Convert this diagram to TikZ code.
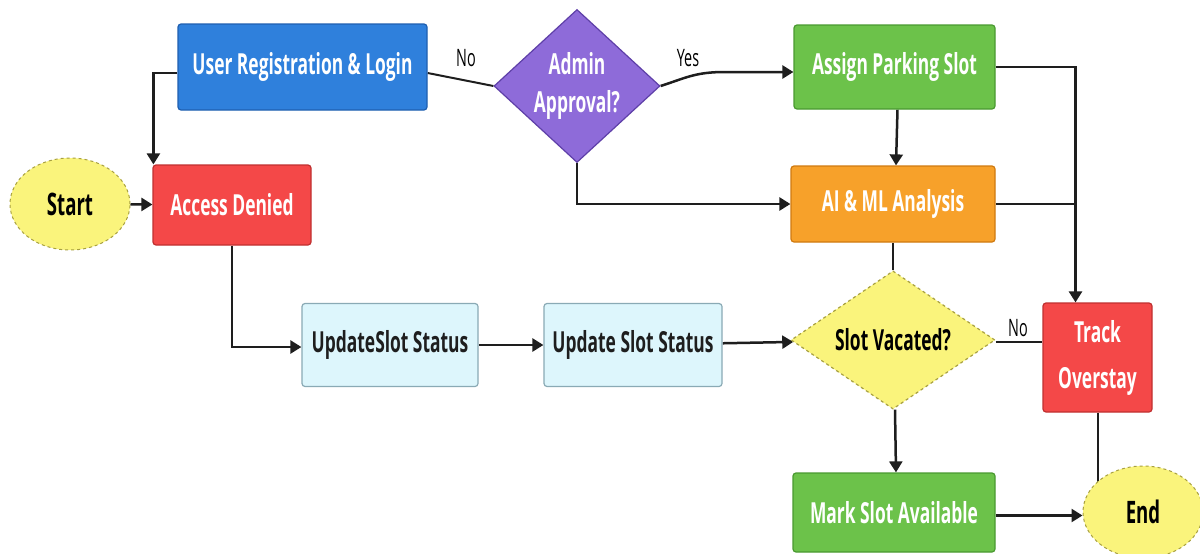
\documentclass[tikz,border=0pt]{standalone}
\usepackage{fontspec}
\setmainfont{Open Sans}[FakeStretch=0.6]
\usetikzlibrary{shapes.geometric,arrows.meta,backgrounds}
\definecolor{cblue}{HTML}{2F80DC}
\definecolor{cblueD}{HTML}{1F5FB0}
\definecolor{cred}{HTML}{F44848}
\definecolor{credD}{HTML}{C03030}
\definecolor{cyel}{HTML}{FAF47C}
\definecolor{cyelD}{HTML}{A8A040}
\definecolor{cpur}{HTML}{8E6BD9}
\definecolor{cpurD}{HTML}{5E3FA8}
\definecolor{cgreen}{HTML}{6CC24A}
\definecolor{cgreenD}{HTML}{4A9A30}
\definecolor{corange}{HTML}{F7A12A}
\definecolor{corangeD}{HTML}{D07A10}
\definecolor{ccyan}{HTML}{DDF6FC}
\definecolor{ccyanD}{HTML}{8AAAB5}
\definecolor{cline}{HTML}{1E1E1E}
\tikzset{
  box/.style={rectangle, rounded corners=3pt, line width=1.2pt, inner sep=2pt, align=center,
    font=\bfseries\fontsize{29}{46}\selectfont},
  terminal/.style={ellipse, fill=cyel, draw=cyelD, dashed, line width=1pt, inner sep=0pt,
    minimum width=120pt, minimum height=92pt, font=\bfseries\fontsize{31}{38}\selectfont, text=black},
  decision/.style={diamond, inner sep=0pt, align=center, line width=1.2pt,
    font=\bfseries\fontsize{29}{38}\selectfont},
  conn/.style={draw=cline, line width=2.5pt},
  thin conn/.style={draw=cline, line width=2pt},
  arr/.style={conn, -{Triangle[length=11pt,width=13pt]}},
  lbl/.style={font=\fontsize{24}{28}\selectfont, text=black, inner sep=1pt},
}
\begin{document}
\begin{tikzpicture}[x=1pt,y=-1pt]
\useasboundingbox (0,0) rectangle (1200,554);
% nodes
\node[terminal] (start) at (70,204) {Start};
\node[box, fill=cblue, draw=cblueD, text=white, minimum width=249pt, minimum height=86pt] (userreg) at (302.5,67) {User Registration \& Login};
\node[box, fill=cred, draw=credD, text=white, minimum width=158pt, minimum height=80pt] (access) at (232,205) {Access Denied};
\node[decision, fill=cpur, draw=cpurD, text=white, minimum width=166pt, minimum height=142pt] (admin) at (577,86) {Admin\\Approval?};
\node[box, fill=cgreen, draw=cgreenD, text=white, minimum width=201pt, minimum height=84pt] (assign) at (894.5,67) {Assign Parking Slot};
\node[box, fill=corange, draw=corangeD, text=white, minimum width=204pt, minimum height=76pt] (ai) at (893,204) {AI \& ML Analysis};
\node[box, fill=ccyan, draw=ccyanD, text=cline, minimum width=176pt, minimum height=83pt] (upd1) at (390,345) {UpdateSlot Status};
\node[box, fill=ccyan, draw=ccyanD, text=cline, minimum width=178pt, minimum height=83pt] (upd2) at (633,345) {Update Slot Status};
\node[decision, fill=cyel, draw=cyelD, dashed, text=black, minimum width=204pt, minimum height=136pt] (vac) at (893,340) {Slot Vacated?};
\node[box, fill=cred, draw=credD, text=white, minimum width=109pt, minimum height=109pt] (track) at (1097.5,357.5) {Track\\Overstay};
\node[box, fill=cgreen, draw=cgreenD, text=white, minimum width=202pt, minimum height=79pt] (mark) at (894,512.5) {Mark Slot Available};
\node[terminal] (end) at (1143,512) {End};
\node[lbl] (no1) at (466,58) {No};
\node[lbl] (yes1) at (688,58) {Yes};
\node[lbl] (no2) at (1018,328) {No};
\coordinate (jx) at ([xshift=-22pt]track.north);
\coordinate (yesbend) at (725,72);
% connectors
\begin{scope}[on background layer]
\fill[white] (0,0) rectangle (1200,554);
\draw[arr] ([yshift=-6pt]userreg.west) -| ([xshift=1pt]access.north west);
\draw[arr] (start) -- (access);
\draw[thin conn] ([yshift=-6pt]userreg.east) -- (admin.west);
\draw[arr] (admin.east) .. controls +(25,-8) and +(-30,0) .. (yesbend) -- (assign.west |- yesbend);
\draw[arr] ([xshift=3pt]assign.south) -- ([xshift=3pt]ai.north);
\draw[arr] (admin.south) |- (ai.west);
\draw[arr] (assign.east) -| (jx);
\draw[conn] (ai.east) -- (ai.east -| jx);
\draw[thin conn] (ai.south) -- (vac.north);
\draw[arr] (access.south) |- ([yshift=-2pt]upd1.west);
\draw[arr] (upd1) -- (upd2);
\draw[arr] (upd2) -- (vac);
\draw[thin conn] ([yshift=-2pt]vac.east) -- ([yshift=-2pt]vac.east -| track.west);
\draw[arr] ([xshift=2pt]vac.south) -- ([xshift=2pt]mark.north);
\draw[arr] ([yshift=-3pt]mark.east) -- ([yshift=-3pt]mark.east -| end.west);
\draw[thin conn] (track.south) -- (track.south |- end.center);
\end{scope}
\end{tikzpicture}
\end{document}
